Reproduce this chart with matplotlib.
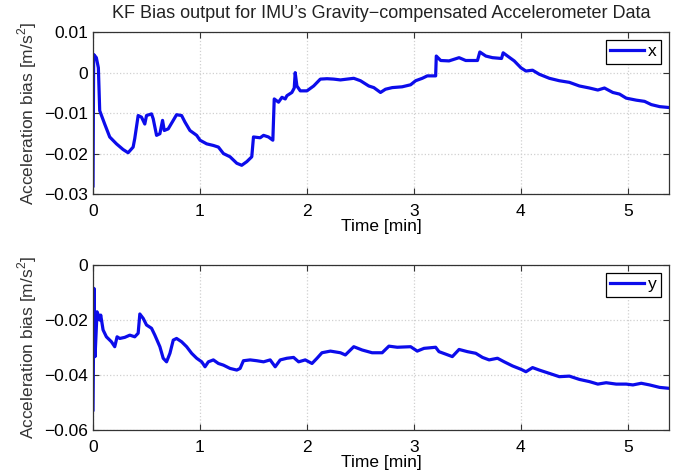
import matplotlib
matplotlib.use("Agg")
import matplotlib.pyplot as plt

plt.rcParams["font.family"] = ["Liberation Sans", "DejaVu Sans"]
plt.rcParams["mathtext.fontset"] = "custom"
plt.rcParams["mathtext.rm"] = "Liberation Sans"
plt.rcParams["axes.unicode_minus"] = True

# x-axis bias (time in minutes, bias in m/s^2)
t_x = [0.0, 0.006, 0.031, 0.05, 0.0625, 0.109, 0.156, 0.219, 0.281, 0.328, 0.375, 0.39,
       0.422, 0.453, 0.484, 0.5, 0.547, 0.5625, 0.594, 0.625, 0.65, 0.666, 0.703, 0.75,
       0.781, 0.828, 0.859, 0.906, 0.969, 1.0, 1.0625, 1.125, 1.172, 1.219, 1.281, 1.344,
       1.39, 1.4375, 1.484, 1.5, 1.5625, 1.594, 1.64, 1.681, 1.694, 1.734, 1.766, 1.797,
       1.8125, 1.859, 1.881, 1.89, 1.906, 1.9375, 2.0, 2.0625, 2.125, 2.1875, 2.25, 2.3125,
       2.4375, 2.5, 2.578, 2.625, 2.6875, 2.734, 2.797, 2.89, 2.969, 3.016, 3.078, 3.125,
       3.203, 3.209, 3.25, 3.328, 3.422, 3.484, 3.594, 3.616, 3.672, 3.734, 3.819, 3.834,
       3.875, 3.9375, 4.0, 4.047, 4.109, 4.172, 4.266, 4.359, 4.453, 4.547, 4.641, 4.719,
       4.781, 4.859, 4.922, 4.984, 5.078, 5.156, 5.219, 5.297, 5.375]
bias_x = [-0.028, 0.0045, 0.0037, 0.0012, -0.0094, -0.0127, -0.0159, -0.0176, -0.019, -0.0198,
          -0.0184, -0.0163, -0.0106, -0.011, -0.0127, -0.0106, -0.0102, -0.0114, -0.0155, -0.0151,
          -0.0118, -0.0143, -0.0139, -0.0118, -0.0104, -0.0106, -0.0122, -0.0143, -0.0155, -0.0167,
          -0.0176, -0.018, -0.0184, -0.02, -0.0208, -0.0224, -0.0229, -0.022, -0.0208, -0.0159,
          -0.0161, -0.0155, -0.0159, -0.0167, -0.0065, -0.0073, -0.0061, -0.0065, -0.0057, -0.0049,
          -0.0038, 0.0, -0.0033, -0.0045, -0.0045, -0.0033, -0.0016, -0.0015, -0.0016, -0.0018,
          -0.0014, -0.002, -0.0033, -0.0037, -0.0049, -0.0041, -0.0037, -0.0035, -0.003, -0.002,
          -0.0014, -0.0008, -0.0008, 0.0041, 0.003, 0.0029, 0.0037, 0.003, 0.003, 0.0051,
          0.0041, 0.0037, 0.0035, 0.0049, 0.0041, 0.0029, 0.0012, 0.0004, 0.0006, -0.0004,
          -0.0014, -0.002, -0.0024, -0.0033, -0.0038, -0.0043, -0.0038, -0.0049, -0.0053, -0.0063,
          -0.0068, -0.0071, -0.0079, -0.0084, -0.0086]

# y-axis bias
t_y = [0.0, 0.009, 0.019, 0.0375, 0.05, 0.0625, 0.072, 0.094, 0.125, 0.172, 0.203, 0.225,
       0.25, 0.297, 0.344, 0.39, 0.422, 0.4375, 0.469, 0.5, 0.547, 0.578, 0.625, 0.656,
       0.6875, 0.719, 0.75, 0.781, 0.828, 0.875, 0.922, 0.969, 1.016, 1.047, 1.078, 1.125,
       1.172, 1.219, 1.281, 1.344, 1.375, 1.406, 1.469, 1.531, 1.594, 1.656, 1.703, 1.75,
       1.8125, 1.875, 1.922, 1.984, 2.047, 2.094, 2.14, 2.219, 2.3125, 2.359, 2.4375, 2.516,
       2.609, 2.703, 2.766, 2.844, 2.969, 3.031, 3.094, 3.203, 3.234, 3.297, 3.359, 3.422,
       3.5, 3.578, 3.641, 3.703, 3.781, 3.844, 3.922, 4.0, 4.047, 4.109, 4.172, 4.266,
       4.359, 4.453, 4.547, 4.641, 4.719, 4.797, 4.891, 4.984, 5.047, 5.125, 5.203, 5.297,
       5.375]
bias_y = [-0.0527, -0.0085, -0.0333, -0.017, -0.0182, -0.02, -0.0182, -0.0236, -0.0261, -0.0279,
          -0.0297, -0.0261, -0.0267, -0.0263, -0.0255, -0.0261, -0.0248, -0.0178, -0.0194, -0.0218,
          -0.023, -0.0255, -0.0297, -0.0339, -0.0352, -0.0321, -0.0273, -0.0267, -0.0279, -0.0297,
          -0.0321, -0.0339, -0.0352, -0.037, -0.0352, -0.0345, -0.0358, -0.0364, -0.0376, -0.0382,
          -0.0376, -0.0348, -0.0345, -0.0348, -0.0352, -0.0345, -0.037, -0.0345, -0.0339, -0.0336,
          -0.0352, -0.0345, -0.0358, -0.0339, -0.0319, -0.0313, -0.0319, -0.0327, -0.0297, -0.0309,
          -0.0319, -0.0319, -0.0295, -0.0299, -0.0297, -0.0313, -0.0303, -0.0299, -0.0315, -0.0324,
          -0.0333, -0.0307, -0.0315, -0.0321, -0.0336, -0.0345, -0.0339, -0.0352, -0.0367, -0.0379,
          -0.0388, -0.0373, -0.0382, -0.0394, -0.0406, -0.0404, -0.0416, -0.0424, -0.0433, -0.0428,
          -0.0433, -0.0433, -0.0436, -0.043, -0.0436, -0.0445, -0.0448]

x_ticks = [0, 1, 2, 3, 4, 5]
ticks_top = [-0.03, -0.02, -0.01, 0, 0.01]
labels_top = ["\u22120.03", "\u22120.02", "\u22120.01", "0", "0.01"]
ticks_bot = [-0.06, -0.04, -0.02, 0]
labels_bot = ["\u22120.06", "\u22120.04", "\u22120.02", "0"]

fig = plt.figure(figsize=(6.84, 4.76), dpi=100)
ax1 = fig.add_axes([0.136, 0.5924, 0.842, 0.340])
ax2 = fig.add_axes([0.136, 0.0966, 0.842, 0.3466])

line_color = "#0c0ceb"
panels = [
    (ax1, t_x, bias_x, "x", ticks_top, labels_top, (-0.03, 0.01)),
    (ax2, t_y, bias_y, "y", ticks_bot, labels_bot, (-0.06, 0.0)),
]
for ax, t, b, name, yt, yl, ylim in panels:
    ax.plot(t, b, color=line_color, lw=2.3, label=name)
    ax.set_xlim(0, 5.384)
    ax.set_ylim(*ylim)
    ax.set_xticks(x_ticks)
    ax.set_yticks(yt)
    ax.set_yticklabels(yl)
    ax.grid(True, linestyle=":", color="#d0d0d0", lw=0.9)
    ax.tick_params(direction="in", top=True, right=True, labelsize=12.5, length=4,
                   colors="#333333", labelcolor="black")
    ax.tick_params(axis="x", pad=7)
    for sp in ax.spines.values():
        sp.set_linewidth(0.9)
        sp.set_color("#333333")
    ax.set_xlabel("Time [min]", fontsize=12.5, labelpad=0)
    ax.set_ylabel("Acceleration bias [m/s$^2$]", fontsize=12.5, labelpad=4, color="#333333")
    leg = ax.legend(loc="upper right", fontsize=12.5, fancybox=False, framealpha=1,
                    edgecolor="black", handlelength=1.95, handletextpad=0.25,
                    borderpad=0.25, borderaxespad=0.45)
    leg.get_frame().set_linewidth(0.9)

ax1.set_title("KF Bias output for IMU\u2019s Gravity\u2212compensated Accelerometer Data",
              fontsize=13, pad=10, color="#222222")

fig.savefig("out.png", dpi=100)
